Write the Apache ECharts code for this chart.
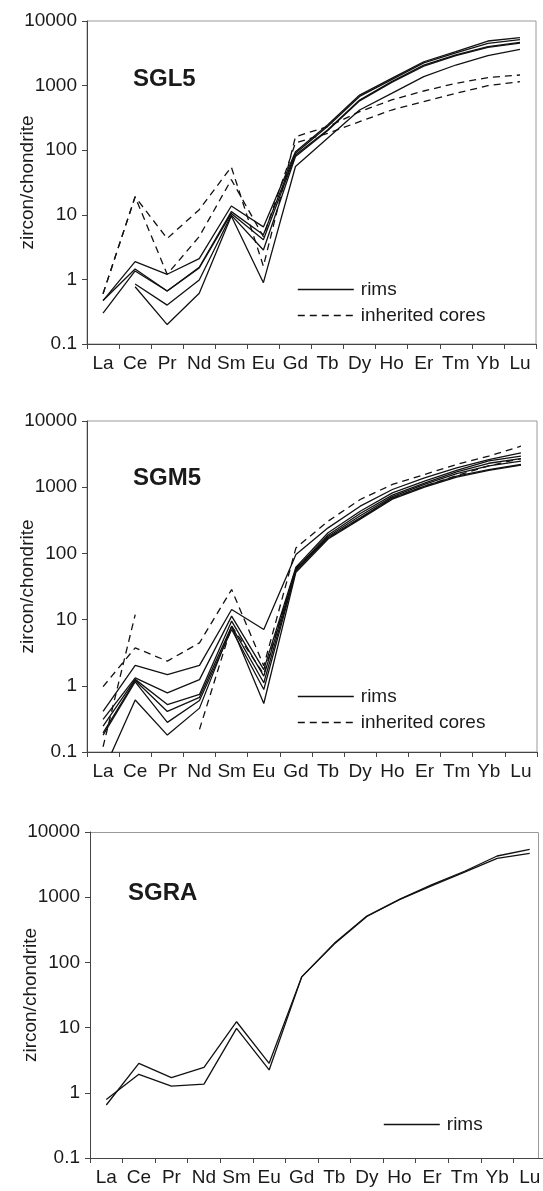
<!DOCTYPE html>
<html><head><meta charset="utf-8">
<script src="https://cdn.jsdelivr.net/npm/echarts@6/dist/echarts.min.js"></script>
<style>html,body{margin:0;padding:0;background:#fff}#c{width:543px;height:1191px}</style>
</head><body><div id="c"></div><script>
const elements = ['La','Ce','Pr','Nd','Sm','Eu','Gd','Tb','Dy','Ho','Er','Tm','Yb','Lu'];
const yTickLabels = ['0.1','1','10','100','1000','10000'];
const panelTitles = ['SGL5','SGM5','SGRA'];
const yAxisName = 'zircon/chondrite';
const rimName = 'rims';
const coreName = 'inherited cores';

// SGL5 rims
const sgl5Rim1 = [0.47,1.88,1.2,2.1,13.7,6.5,95,245,714,1297,2340,3350,4900,5520];
const sgl5Rim2 = [0.47,1.45,0.66,1.54,11.2,4.9,90,232,680,1240,2250,3200,4500,5150];
const sgl5Rim3 = [0.30,1.35,0.66,1.5,10.5,4.1,84,205,599,1150,2083,2977,4000,4680];
const sgl5Rim4 = [null,0.85,0.40,0.98,9.9,2.85,80,200,580,1120,2000,2900,3900,4550];
const sgl5Rim5 = [null,0.77,0.20,0.61,9.6,0.89,56,153,419,758,1375,2083,2900,3650];
// SGL5 inherited cores
const sgl5Core1 = [0.6,19,4.3,12,55,1.6,162,231,395,599,825,1085,1330,1460];
const sgl5Core2 = [0.6,19,1.2,4.6,35,4.6,130,182,277,419,564,758,998,1150];

// SGM5 rims
const sgm5Rim1 = [0.41,2.03,1.48,2.03,14.2,7.1,96,243,517,923,1386,1963,2619,3311];
const sgm5Rim2 = [0.31,1.32,0.78,1.24,11.3,1.76,62,205,434,822,1234,1800,2500,2944];
const sgm5Rim3 = [0.245,1.25,0.52,0.74,9.5,1.40,58,190,400,760,1150,1700,2300,2700];
const sgm5Rim4 = [0.195,1.2,0.41,0.67,7.9,1.11,56,180,370,720,1100,1600,2100,2472];
const sgm5Rim5 = [0.18,1.15,0.28,0.6,7.1,0.88,55,172,344,691,1036,1466,1848,2203];
const sgm5Rim6 = [0.05,0.61,0.18,0.46,7.9,0.54,52,165,330,660,1000,1420,1800,2150];
// SGM5 inherited cores
const sgm5Core1 = [0.97,3.75,2.36,4.46,28.5,2.0,121,307,652,1099,1556,2203,2944,4170];
const sgm5Core2 = [0.12,11.9,null,0.22,8,1.5,60,170,340,680,1030,1500,2100,2700];

// SGRA rims
const sgraRim1 = [0.65,2.83,1.71,2.46,12.3,2.83,60,196,515,927,1560,2500,4285,5420];
const sgraRim2 = [0.79,1.92,1.27,1.36,9.75,2.24,60,192,505,915,1500,2430,3945,4710];

const FONT = 'Liberation Sans, Arial, Helvetica, sans-serif';
const INK = '#1a1a1a';
const BORDER = '#9a9a9a';

const grids = [
  {left:87, top:21, width:449, height:323, show:true},
  {left:87, top:421, width:450, height:331, show:true},
  {left:90, top:832, width:456, height:326, show:false}
];

const panels = [
  {rims:[sgl5Rim1,sgl5Rim2,sgl5Rim3,sgl5Rim4,sgl5Rim5], cores:[sgl5Core1,sgl5Core2]},
  {rims:[sgm5Rim1,sgm5Rim2,sgm5Rim3,sgm5Rim4,sgm5Rim5,sgm5Rim6], cores:[sgm5Core1,sgm5Core2]},
  {rims:[sgraRim1,sgraRim2], cores:[]}
];

const series = [];
panels.forEach((p, i) => {
  p.rims.forEach(d => series.push({
    type:'line', name:rimName, xAxisIndex:i, yAxisIndex:i, data:d,
    symbol:'none', connectNulls:false, clip:true, silent:true,
    lineStyle:{color:'#111', width:1.3, type:'solid'}, itemStyle:{color:'#111'}
  }));
  p.cores.forEach(d => series.push({
    type:'line', name:coreName, xAxisIndex:i, yAxisIndex:i, data:d,
    symbol:'none', connectNulls:false, clip:true, silent:true,
    lineStyle:{color:'#111', width:1.3, type:[7,5]}, itemStyle:{color:'#111'}
  }));
});

const option = {
  animation:false,
  backgroundColor:'#fff',
  textStyle:{fontFamily:FONT},
  title: panelTitles.map((t, i) => ({
    text:t, left:[128,128,123][i], top:[62,461,876][i],
    textStyle:{fontFamily:FONT, fontSize:24, fontWeight:'bold', color:INK}
  })),
  grid: grids.map(g => Object.assign({borderColor:BORDER, borderWidth:1,
    backgroundColor:'transparent', containLabel:false, outerBoundsMode:'none'}, g)),
  // plot-area frame of the third panel (its category axis runs past the frame)
  graphic: [
    {type:'line', shape:{x1:90, y1:832.5, x2:538.5, y2:832.5}, style:{stroke:BORDER, lineWidth:1}, silent:true},
    {type:'line', shape:{x1:538.5, y1:832.5, x2:538.5, y2:1158}, style:{stroke:BORDER, lineWidth:1}, silent:true}
  ],
  xAxis: grids.map((g, i) => ({
    type:'category', gridIndex:i, data:elements, boundaryGap:true,
    axisLine:{show:true, lineStyle:{color:'#444', width:1}},
    axisTick:{show:true, inside:false, length:5, lineStyle:{color:'#444'}},
    axisLabel:{color:INK, fontSize:19, fontFamily:FONT, margin:10, interval:0},
    splitLine:{show:false}
  })),
  yAxis: grids.map((g, i) => ({
    type:'log', gridIndex:i, logBase:10, min:0.1, max:10000,
    name:yAxisName, nameLocation:'middle', nameGap:50, nameMoveOverlap:false,
    nameTextStyle:{fontSize:19, color:INK, fontFamily:FONT},
    axisLine:{show:true, lineStyle:{color:'#444', width:1}},
    axisTick:{show:true, inside:false, length:5, lineStyle:{color:'#444'}},
    axisLabel:{color:INK, fontSize:19, fontFamily:FONT, margin:10,
      formatter:(v) => yTickLabels[Math.round(Math.log10(v)) + 1]},
    splitLine:{show:false}
  })),
  legend: [
    {left:297, top:280, orient:'vertical', data:[rimName, coreName]},
    {left:297, top:687, orient:'vertical', data:[rimName, coreName]},
    {left:383, top:1115, orient:'vertical', data:[rimName]}
  ].map(l => Object.assign({
    padding:0, itemWidth:56, itemHeight:20, itemGap:7, selectedMode:false,
    itemStyle:{color:'rgba(0,0,0,0)', borderColor:'rgba(0,0,0,0)', borderWidth:0, opacity:0},
    lineStyle:{width:1.6},
    textStyle:{fontSize:19, color:INK, fontFamily:FONT, padding:[0,0,0,2]}
  }, l)),
  series: series
};

const chart = echarts.init(document.getElementById('c'), null, {renderer:'canvas', width:543, height:1191});
chart.setOption(option);
</script></body></html>
